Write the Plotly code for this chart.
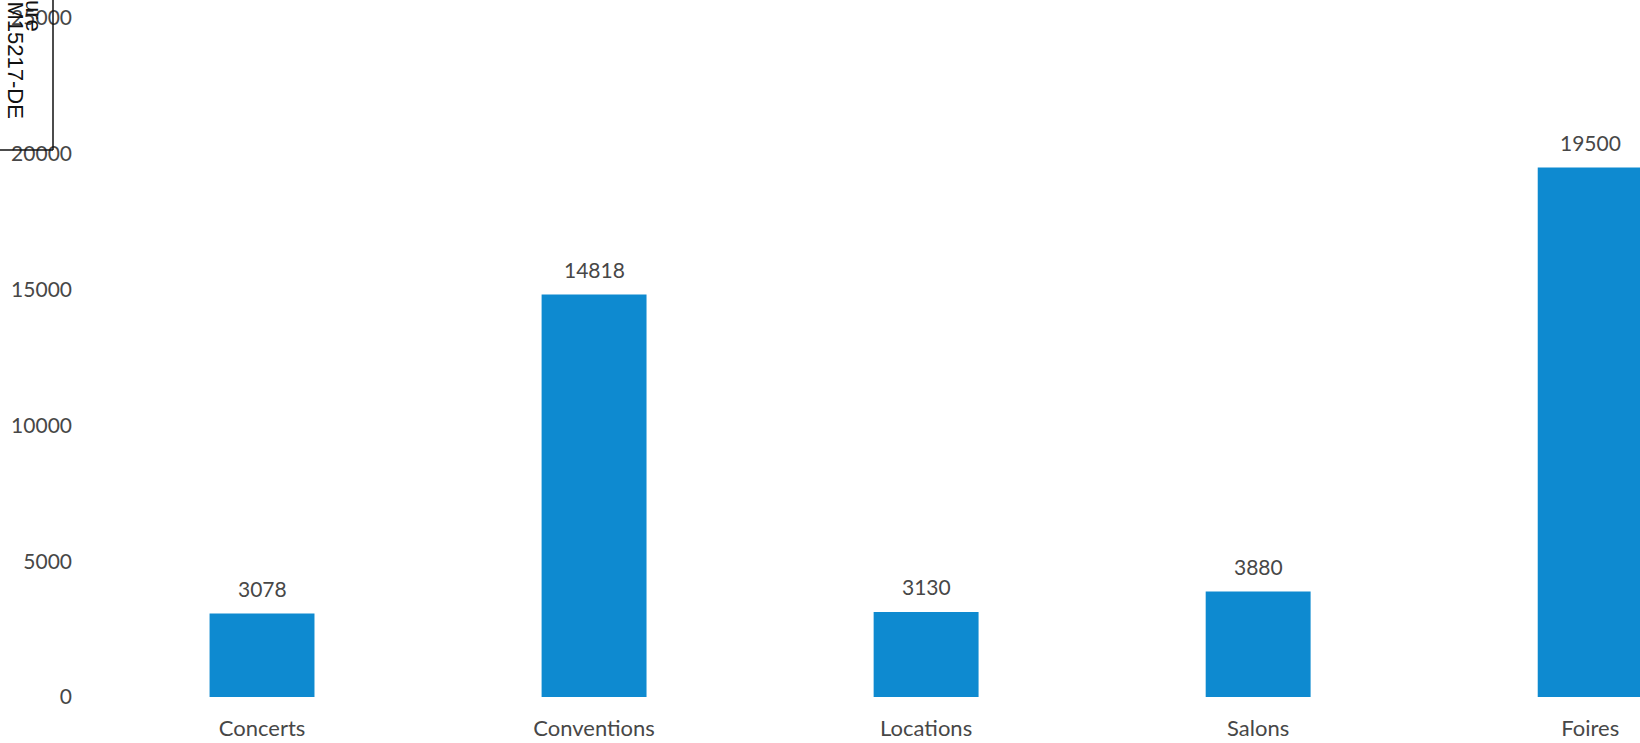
import plotly.graph_objects as go

# Activity categories and their totals
categories = ["Concerts", "Conventions", "Locations", "Salons", "Foires"]
values = [3078, 14818, 3130, 3880, 19500]

y_ticks = [0, 5000, 10000, 15000, 20000, 25000]
y_tick_labels = ["0", "5000", "10000", "15000", "20000", "25000"]

BAR_COLOR = "#0e8ad0"
TEXT_COLOR = "#474747"
FONT = "Lato"

W, H = 1640, 743
ML, MR, MT, MB = 96, 0, 18, 46

fig = go.Figure()
fig.add_trace(go.Bar(
    x=categories,
    y=values,
    width=0.316,
    marker=dict(color=BAR_COLOR, line=dict(width=0)),
    hoverinfo="x+y",
))

# Value labels above each bar
for c, v in zip(categories, values):
    fig.add_annotation(
        x=c, y=v, text=str(v), showarrow=False,
        yanchor="middle", yshift=25,
        font=dict(family=FONT, size=21, color=TEXT_COLOR),
    )

# Document reference stamp in the upper-left corner
pw = W - ML - MR
ph = H - MT - MB
def px_x(p):
    return (p - ML) / pw
def px_y(p):
    return (H - MB - p) / ph

box_right = px_x(53)
box_bottom = px_y(150)
fig.add_shape(type="line", xref="paper", yref="paper",
              x0=px_x(-5), x1=box_right, y0=box_bottom, y1=box_bottom,
              line=dict(color="#111111", width=1.5))
fig.add_shape(type="line", xref="paper", yref="paper",
              x0=box_right, x1=box_right, y0=box_bottom, y1=px_y(-5),
              line=dict(color="#111111", width=1.5))
fig.add_annotation(
    xref="paper", yref="paper", x=px_x(34), y=px_y(-2),
    text="ure", textangle=90, showarrow=False,
    xanchor="center", yanchor="top",
    font=dict(family="Liberation Sans", size=22, color="#111111"),
)
fig.add_annotation(
    xref="paper", yref="paper", x=px_x(15), y=px_y(-1),
    text="M15217-DE", textangle=90, showarrow=False,
    xanchor="center", yanchor="top",
    font=dict(family="Liberation Sans", size=22, color="#111111"),
)

fig.update_layout(
    width=W, height=H,
    margin=dict(l=ML, r=MR, t=MT, b=MB),
    paper_bgcolor="white",
    plot_bgcolor="white",
    showlegend=False,
    font=dict(family=FONT, size=21, color=TEXT_COLOR),
    xaxis=dict(
        range=[-0.5, 4.15],
        showgrid=False, zeroline=False, showline=False,
        ticks="", ticklabelstandoff=16,
        tickfont=dict(family=FONT, size=22, color=TEXT_COLOR),
    ),
    yaxis=dict(
        range=[0, 25000],
        tickvals=y_ticks, ticktext=y_tick_labels,
        showgrid=False, zeroline=False, showline=False,
        ticks="", ticklabelstandoff=23,
        tickfont=dict(family=FONT, size=21, color=TEXT_COLOR),
    ),
)

fig.write_html("out.html")
